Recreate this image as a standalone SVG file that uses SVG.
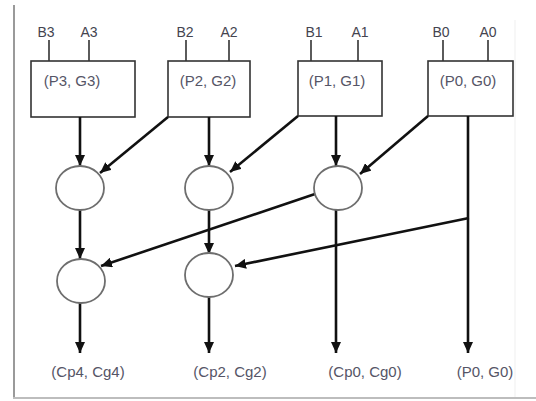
<svg xmlns="http://www.w3.org/2000/svg" width="536" height="401" viewBox="0 0 536 401">
  <defs>
    <marker id="arrow" markerUnits="userSpaceOnUse" markerWidth="12" markerHeight="10" refX="11" refY="5" orient="auto">
      <path d="M0,0 L11,5 L0,10 Z" fill="#111"/>
    </marker>
    <style>
      .frame { stroke: #9a9a9a; stroke-width: 2; fill: none; }
      .box { fill: #fff; stroke: #333; stroke-width: 1.6; }
      .node { fill: #fff; stroke: #6e6e6e; stroke-width: 1.8; }
      .pin { stroke: #333; stroke-width: 1.6; fill: none; }
      .arr { stroke: #111; stroke-width: 2.6; fill: none; marker-end: url(#arrow); }
      .lbl { font-family: "Liberation Sans", Arial, sans-serif; font-size: 15px; fill: #555566; text-anchor: middle; }
      .pinlbl { font-family: "Liberation Sans", Arial, sans-serif; font-size: 14px; fill: #44444f; text-anchor: middle; }
    </style>
  </defs>
  <rect width="536" height="401" fill="#fff"/>

  <!-- page frame -->
  <line class="frame" x1="14" y1="5" x2="14" y2="398"/>
  <line x1="13" y1="398" x2="536" y2="398" stroke="#bdbdbd" stroke-width="2"/>
  <line x1="515" y1="20" x2="515" y2="397" stroke="#efefef" stroke-width="1"/>

  <!-- generate blocks -->
  <g id="pg3">
    <line class="pin" x1="49" y1="40" x2="49" y2="61"/>
    <line class="pin" x1="89" y1="40" x2="89" y2="61"/>
    <text class="pinlbl" x="46" y="37">B3</text>
    <text class="pinlbl" x="89" y="37">A3</text>
    <rect class="box" x="31" y="61" width="104" height="56"/>
    <text class="lbl" x="72" y="86">(P3, G3)</text>
  </g>
  <g id="pg2">
    <line class="pin" x1="186" y1="40" x2="186" y2="61"/>
    <line class="pin" x1="229" y1="40" x2="229" y2="61"/>
    <text class="pinlbl" x="185" y="37">B2</text>
    <text class="pinlbl" x="229" y="37">A2</text>
    <rect class="box" x="168" y="61" width="82" height="56"/>
    <text class="lbl" x="208" y="86">(P2, G2)</text>
  </g>
  <g id="pg1">
    <line class="pin" x1="311" y1="40" x2="311" y2="61"/>
    <line class="pin" x1="358" y1="40" x2="358" y2="61"/>
    <text class="pinlbl" x="314" y="37">B1</text>
    <text class="pinlbl" x="360" y="37">A1</text>
    <rect class="box" x="298" y="61" width="84" height="55"/>
    <text class="lbl" x="337" y="86">(P1, G1)</text>
  </g>
  <g id="pg0">
    <line class="pin" x1="443" y1="40" x2="443" y2="61"/>
    <line class="pin" x1="488" y1="40" x2="488" y2="61"/>
    <text class="pinlbl" x="441" y="37">B0</text>
    <text class="pinlbl" x="488" y="37">A0</text>
    <rect class="box" x="428" y="61" width="85" height="55"/>
    <text class="lbl" x="468" y="86">(P0, G0)</text>
  </g>

  <!-- connectors -->
  <g id="connectors">
    <line class="arr" x1="80" y1="117" x2="80" y2="166"/>
    <line class="arr" x1="209" y1="117" x2="209" y2="166"/>
    <line class="arr" x1="336" y1="116" x2="336" y2="166"/>
    <line class="arr" x1="168" y1="117" x2="100" y2="173"/>
    <line class="arr" x1="298" y1="116" x2="230" y2="172"/>
    <line class="arr" x1="428" y1="116" x2="360" y2="174"/>

    <line class="arr" x1="80" y1="210" x2="80" y2="259"/>
    <line class="arr" x1="209" y1="210" x2="209" y2="254"/>
    <line class="arr" x1="315" y1="194" x2="101" y2="266"/>
    <line class="arr" x1="469" y1="218" x2="235" y2="266"/>

    <line class="arr" x1="80" y1="303" x2="80" y2="353"/>
    <line class="arr" x1="209" y1="297" x2="209" y2="353"/>
    <line class="arr" x1="336" y1="210" x2="336" y2="353"/>
    <line class="arr" x1="468" y1="116" x2="468" y2="353"/>
  </g>

  <!-- combining nodes -->
  <g id="n31"><ellipse class="node" cx="80" cy="188" rx="24" ry="22"/></g>
  <g id="n21"><ellipse class="node" cx="209" cy="188" rx="24" ry="22"/></g>
  <g id="n11"><ellipse class="node" cx="338" cy="188" rx="24" ry="22"/></g>
  <g id="n32"><ellipse class="node" cx="81" cy="281" rx="24" ry="22"/></g>
  <g id="n22"><ellipse class="node" cx="209" cy="275" rx="24" ry="22"/></g>

  <!-- outputs -->
  <g id="out4"><text class="lbl" x="88" y="377">(Cp4, Cg4)</text></g>
  <g id="out2"><text class="lbl" x="230" y="377">(Cp2, Cg2)</text></g>
  <g id="out0"><text class="lbl" x="365" y="377">(Cp0, Cg0)</text></g>
  <g id="outp"><text class="lbl" x="485" y="377">(P0, G0)</text></g>
</svg>
